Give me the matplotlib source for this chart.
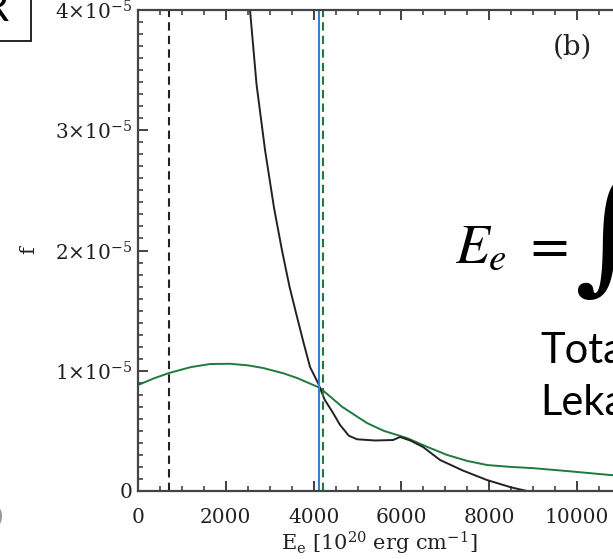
import matplotlib
matplotlib.use("Agg")
import matplotlib.pyplot as plt
from matplotlib.patches import Rectangle
from matplotlib.ticker import MultipleLocator, FixedLocator, FixedFormatter

# values (E in 1e20 erg/cm, f dimensionless)
black_E = [2400, 2551, 2700, 2893, 3100, 3280, 3450, 3622, 3780, 3918, 4100, 4250, 4442,
           4600, 4800, 4989, 5400, 5809, 5968, 6200, 6492, 6879, 7400, 7950, 8500, 8861, 11000]
black_f = [4.8e-5, 4.0e-5, 3.38e-5, 2.836e-5, 2.35e-5, 2.0e-5, 1.7e-5, 1.447e-5, 1.22e-5,
           1.031e-5, 0.898e-5, 0.76e-5, 0.649e-5, 0.55e-5, 0.46e-5, 0.43e-5, 0.42e-5,
           0.424e-5, 0.449e-5, 0.42e-5, 0.366e-5, 0.258e-5, 0.17e-5, 0.091e-5, 0.03e-5,
           0.0, 0.0]

green_E = [0, 350, 706, 1200, 1640, 2096, 2500, 2847, 3300, 3622, 4146, 4650, 5216, 5600,
           6128, 6600, 7039, 7500, 7950, 8500, 8998, 9800, 10752, 11000]
green_f = [0.881e-5, 0.935e-5, 0.981e-5, 1.03e-5, 1.056e-5, 1.058e-5, 1.045e-5, 1.023e-5,
           0.98e-5, 0.94e-5, 0.857e-5, 0.70e-5, 0.565e-5, 0.50e-5, 0.44e-5, 0.365e-5,
           0.30e-5, 0.25e-5, 0.216e-5, 0.20e-5, 0.19e-5, 0.165e-5, 0.133e-5, 0.127e-5]

black_dash_E = 706
blue_E = 4123
green_dash_E = 4207

xticks = [0, 2000, 4000, 6000, 8000, 10000]
xtick_labels = ['0', '2000', '4000', '6000', '8000', '10000']
yticks = [0, 1e-5, 2e-5, 3e-5, 4e-5]
ytick_labels = ['0', r'$1{\times}10^{-5}$', r'$2{\times}10^{-5}$',
                r'$3{\times}10^{-5}$', r'$4{\times}10^{-5}$']

plt.rcParams['font.family'] = 'DejaVu Serif'
plt.rcParams['mathtext.fontset'] = 'dejavuserif'

W, H = 613, 559
fig = plt.figure(figsize=(W / 100, H / 100), dpi=100)
ax = fig.add_axes([138 / W, 68 / H, 483 / W, 481 / H])

green = '#1f7a3c'
blue = '#3b7fc4'
ink = '#222222'

ax.plot(green_E, green_f, color=green, lw=1.4)
ax.plot(black_E, black_f, color=ink, lw=1.4)
ax.axvline(black_dash_E, color=ink, lw=1.5, ls=(0, (4, 2.5)))
ax.axvline(blue_E, color=blue, lw=1.5)
ax.axvline(green_dash_E, color=green, lw=1.5, ls=(0, (4, 2.5)))

ax.set_xlim(0, 11000)
ax.set_ylim(0, 4e-5)
ax.xaxis.set_major_locator(FixedLocator(xticks))
ax.xaxis.set_major_formatter(FixedFormatter(xtick_labels))
ax.xaxis.set_minor_locator(MultipleLocator(500))
ax.yaxis.set_major_locator(FixedLocator(yticks))
ax.yaxis.set_major_formatter(FixedFormatter(ytick_labels))
ax.yaxis.set_minor_locator(MultipleLocator(1e-6))

ax.tick_params(which='both', direction='in', top=True, right=False, colors='#333333',
               labelcolor='#222222', labelsize=14.5)
ax.tick_params(which='major', length=7, width=1.3)
ax.tick_params(which='minor', length=3.5, width=1.1)
ax.tick_params(axis='x', which='major', pad=12)
ax.tick_params(axis='y', which='major', pad=4)
for s in ax.spines.values():
    s.set_color('#444444')
    s.set_linewidth(1.6)

ax.set_xlabel(r'E$_\mathrm{e}$ [10$^{20}$ erg cm$^{-1}$]', fontsize=15, labelpad=2, color='#222222')
fig.text(29 / W, 1 - 250 / H, 'f', rotation=90, fontsize=15, ha='center', va='center', color='#222222')

# slide overlay elements around the chart
fig.text(572 / W, 1 - 47 / H, '(b)', fontsize=20, ha='center', va='center', color='#222222')
fig.text(455 / W, 1 - 262 / H, r'$E_e\ =$', fontsize=40, math_fontfamily='stix',
         ha='left', va='baseline', color='black')
fig.text(575 / W, 1 - 240 / H, '\u222b', fontsize=95, family='DejaVu Serif',
         ha='left', va='center', color='black')
fig.text(540 / W, 1 - 363 / H, 'Tota', fontsize=30, family='Lato', ha='left', va='baseline')
fig.text(540 / W, 1 - 415 / H, 'Leka', fontsize=30, family='Lato', ha='left', va='baseline')
fig.text(8 / W, 1 - 21 / H, 'R', fontsize=30, family='Lato', ha='right', va='baseline')
fig.patches.append(Rectangle((-10 / W, 1 - 41 / H), 41 / W, 60 / H, transform=fig.transFigure,
                             fill=False, edgecolor='black', lw=1.2))
fig.text(3 / W, 1 - 522 / H, ')', fontsize=16, ha='right', va='baseline', color='#999999')

fig.savefig('out.png', dpi=100)
